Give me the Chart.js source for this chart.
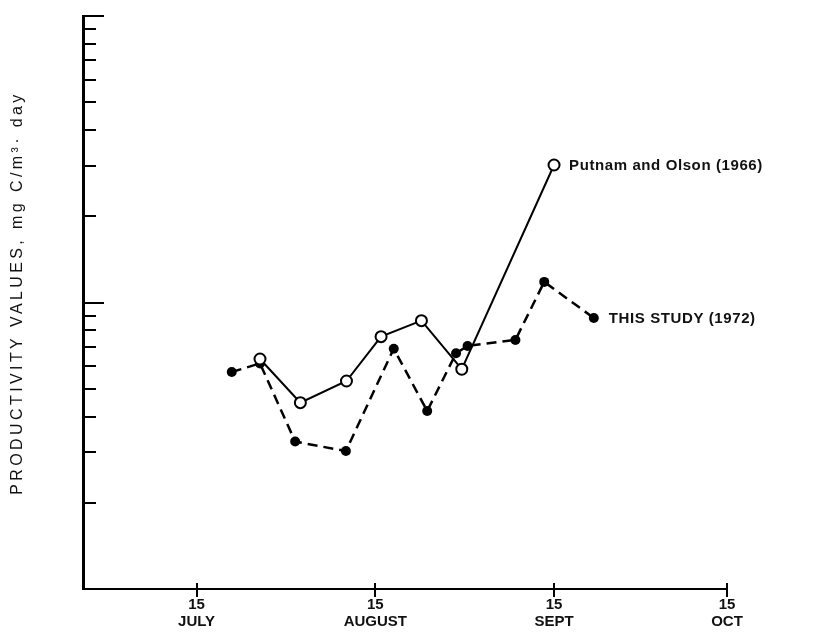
<!DOCTYPE html>
<html>
<head>
<meta charset="utf-8">
<title>Productivity values</title>
<script src="https://cdn.jsdelivr.net/npm/chart.js@4.4.1/dist/chart.umd.min.js"></script>
<style>
    html, body { margin: 0; padding: 0; background: #fff; }
    #wrap { width: 816px; height: 638px; }
</style>
</head>
<body>
<div id="wrap"><canvas id="prodChart" width="816" height="638"></canvas></div>
<script>
// Data (x = days counted from 15 July, y = mg C/m3.day on a log axis)
const putnamDays = [11, 18, 26, 32, 39, 46, 62];
const putnamValues = [6.35, 4.47, 5.32, 7.6, 8.64, 5.85, 30.2];

const studyDays = [6.1, 11, 17.1, 25.9, 34.2, 40, 45, 47, 55.3, 60.3, 68.9];
const studyValues = [5.72, 6.13, 3.27, 3.03, 6.9, 4.18, 6.65, 7.05, 7.4, 11.8, 8.83];

const seriesLabels = ['Putnam and Olson (1966)', 'THIS STUDY (1972)'];

const xTickDays = [0, 31, 62, 92];
const xTickLabels = [['15', 'JULY'], ['15', 'AUGUST'], ['15', 'SEPT'], ['15', 'OCT']];
const yTickValues = [1, 2, 3, 4, 5, 6, 7, 8, 9, 10, 20, 30, 40, 50, 60, 70, 80, 90, 100];
const yTitle = 'PRODUCTIVITY VALUES, mg C/m\u00B3\u00B7 day';

const labelFont = 'bold 15px "Liberation Sans", Arial, sans-serif';

function toPoints(xs, ys) {
    return xs.map((x, i) => ({ x: x, y: ys[i] }));
}

// Inward ticks on the y axis, crossing ticks on the x axis
const tickMarks = {
    id: 'tickMarks',
    afterDraw(chart) {
        const ctx = chart.ctx;
        const xs = chart.scales.x;
        const ys = chart.scales.y;
        const area = chart.chartArea;
        ctx.save();
        ctx.strokeStyle = '#000';
        ctx.lineWidth = 2;
        yTickValues.forEach(v => {
            if (v === 1) return;
            const y = Math.round(ys.getPixelForValue(v));
            const len = (v === 10 || v === 100) ? 21 : 13;
            ctx.beginPath();
            ctx.moveTo(area.left, y);
            ctx.lineTo(area.left + len, y);
            ctx.stroke();
        });
        xTickDays.forEach(d => {
            const x = Math.round(xs.getPixelForValue(d));
            ctx.beginPath();
            ctx.moveTo(x, area.bottom - 6);
            ctx.lineTo(x, area.bottom + 8);
            ctx.stroke();
        });
        ctx.restore();
    }
};

// Series names written next to the last point of each line
const endLabels = {
    id: 'endLabels',
    afterDatasetsDraw(chart) {
        const ctx = chart.ctx;
        ctx.save();
        ctx.font = labelFont;
        ctx.letterSpacing = '0.6px';
        ctx.fillStyle = '#111';
        ctx.textBaseline = 'middle';
        ctx.textAlign = 'left';
        chart.data.datasets.forEach((ds, i) => {
            const pts = chart.getDatasetMeta(i).data;
            const last = pts[pts.length - 1];
            ctx.fillText(seriesLabels[i], last.x + 15, last.y + 1);
        });
        ctx.restore();
    }
};

// Rotated y axis title
const yAxisTitle = {
    id: 'yAxisTitle',
    afterDraw(chart) {
        const ctx = chart.ctx;
        ctx.save();
        ctx.translate(18, 293);
        ctx.rotate(-Math.PI / 2);
        ctx.font = '16px "Liberation Sans", Arial, sans-serif';
        ctx.letterSpacing = '3.4px';
        ctx.fillStyle = '#111';
        ctx.textAlign = 'center';
        ctx.textBaseline = 'middle';
        ctx.fillText(yTitle, 0, 0);
        ctx.restore();
    }
};

const ctx = document.getElementById('prodChart').getContext('2d');

const prodChart = new Chart(ctx, {
    type: 'scatter',
    data: {
        datasets: [{
            label: seriesLabels[0],
            data: toPoints(putnamDays, putnamValues),
            showLine: true,
            borderColor: '#000',
            borderWidth: 2,
            pointRadius: 5.5,
            pointBorderWidth: 2,
            pointBorderColor: '#000',
            pointBackgroundColor: '#fff',
            order: 1
        }, {
            label: seriesLabels[1],
            data: toPoints(studyDays, studyValues),
            showLine: true,
            borderColor: '#000',
            borderWidth: 2.5,
            borderDash: [10, 6],
            pointRadius: 5,
            pointBorderWidth: 0,
            pointBackgroundColor: '#000',
            order: 2
        }]
    },
    options: {
        responsive: false,
        devicePixelRatio: 1,
        animation: false,
        layout: {
            padding: { top: 16, right: 89, left: 0, bottom: 0 }
        },
        plugins: {
            legend: { display: false },
            tooltip: { enabled: false }
        },
        scales: {
            x: {
                type: 'linear',
                min: -19.7,
                max: 92,
                afterBuildTicks: scale => {
                    scale.ticks = xTickDays.map(v => ({ value: v }));
                },
                afterFit: scale => {
                    scale.height = 49;
                },
                grid: { display: false, drawTicks: false },
                border: { display: true, color: '#000', width: 2 },
                ticks: {
                    autoSkip: false,
                    maxRotation: 0,
                    padding: 8,
                    color: '#111',
                    font: { family: '"Liberation Sans", Arial, sans-serif', size: 15, weight: 'bold', lineHeight: 1.1 },
                    callback: function (value, index) {
                        return xTickLabels[index];
                    }
                }
            },
            y: {
                type: 'logarithmic',
                min: 1,
                max: 100,
                afterBuildTicks: scale => {
                    scale.ticks = yTickValues.map(v => ({ value: v }));
                },
                afterFit: scale => {
                    scale.width = 83;
                },
                grid: { display: false, drawTicks: false },
                border: { display: true, color: '#000', width: 3 },
                ticks: { display: false }
            }
        }
    },
    plugins: [tickMarks, endLabels, yAxisTitle]
});
</script>
</body>
</html>
